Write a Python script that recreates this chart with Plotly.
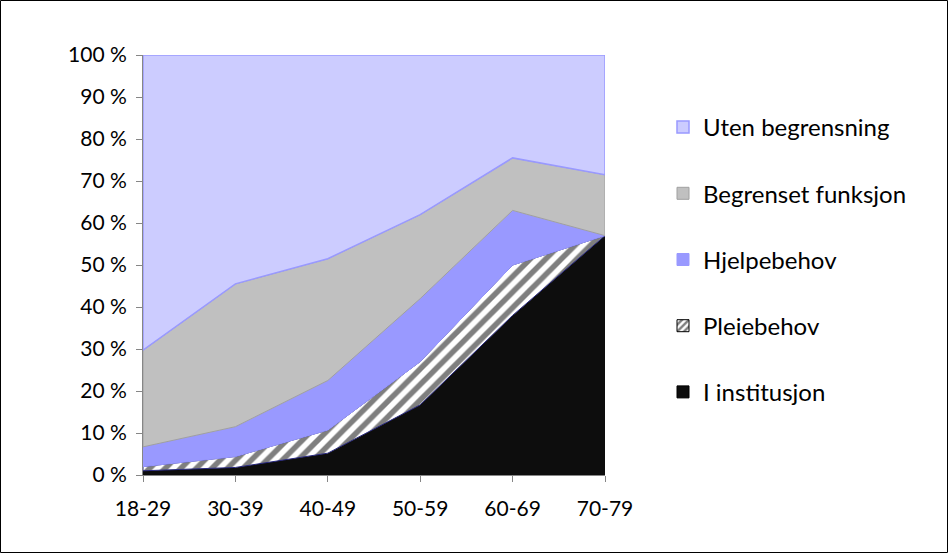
import plotly.graph_objects as go

categories = ["18-29", "30-39", "40-49", "50-59", "60-69", "70-79"]
i_institusjon = [1.0, 1.8, 5.2, 16.7, 38.0, 57.0]
pleiebehov = [1.0, 2.6, 5.5, 10.3, 12.0, 0.0]
hjelpebehov = [4.7, 7.1, 11.8, 15.0, 13.0, 0.0]
begrenset = [23.0, 34.0, 29.0, 20.0, 12.5, 14.5]
uten = [70.3, 54.5, 48.5, 38.0, 24.5, 28.5]
y_ticks = [0, 10, 20, 30, 40, 50, 60, 70, 80, 90, 100]
y_tick_labels = [f"{v} %" for v in y_ticks]

stripes = dict(shape="/", fgcolor="#000000", bgcolor="#ffffff", size=11, solidity=0.5)
series = [
    ("I institusjon", i_institusjon, "#0d0d0d", "#0d0d0d", None),
    ("Pleiebehov", pleiebehov, "white", "#2a2a80", stripes),
    ("Hjelpebehov", hjelpebehov, "#9999FF", "#9999FF", None),
    ("Begrenset funksjon", begrenset, "#C0C0C0", "#A0A0A0", None),
    ("Uten begrensning", uten, "#CCCCFF", "#9999FF", None),
]

xs = list(range(len(categories)))
fig = go.Figure()
lower = [0.0] * len(xs)
for i, (name, vals, fill, lc, pat) in enumerate(series):
    upper = [a + b for a, b in zip(lower, vals)]
    px = xs + xs[::-1] + [xs[0]]
    py = upper + lower[::-1] + [upper[0]]
    kw = dict(
        x=px, y=py, mode="lines", fill="toself", name=name, showlegend=False,
        fillcolor=fill, line=dict(color=lc, width=1.5 if name == "Uten begrensning" else 1),
        hoverinfo="skip",
    )
    if pat:
        kw["fillpattern"] = pat
    fig.add_trace(go.Scatter(**kw))
    lower = upper

# legend entries (square swatches)
for i, (name, vals, fill, lc, pat) in enumerate(series):
    mk = dict(color=fill if name != "Pleiebehov" else "white",
              line=dict(color="#000000" if name in ("Pleiebehov", "I institusjon") else lc, width=1))
    if name == "Uten begrensning":
        mk["line"] = dict(color="#9999FF", width=1.5)
    if name == "Begrenset funksjon":
        mk["line"] = dict(color="#A0A0A0", width=1)
    if pat:
        mk["pattern"] = dict(shape="/", fgcolor="#000000", bgcolor="#ffffff", size=6, solidity=0.5)
    fig.add_trace(go.Bar(x=[None], y=[None], name=name, marker=mk, legendgroup=name,
                         legendrank=100 - i, showlegend=True, hoverinfo="skip"))

W, H = 948, 553
ml, mr, mt, mb = 143, 343, 55, 78
pw = W - ml - mr
ph = H - mt - mb

fig.update_layout(
    width=W, height=H,
    margin=dict(l=ml, r=mr, t=mt, b=mb),
    paper_bgcolor="white", plot_bgcolor="white",
    font=dict(family="Lato", size=21, color="#000000"),
    showlegend=True,
    legend=dict(
        x=(663 - ml) / pw, y=(H - mb - 105) / ph, xanchor="left", yanchor="top",
        traceorder="grouped", tracegroupgap=32,
        font=dict(size=24), itemwidth=30, bgcolor="rgba(0,0,0,0)",
    ),
    xaxis=dict(
        range=[0, 5], tickvals=xs, ticktext=categories, tickfont=dict(size=21),
        showgrid=False, zeroline=False, showline=True, linecolor="#868686", linewidth=1,
        ticks="outside", ticklen=6, tickcolor="#868686", ticklabelstandoff=9,
    ),
    yaxis=dict(
        range=[0, 100], tickvals=y_ticks, ticktext=y_tick_labels, tickfont=dict(size=21),
        showgrid=False, zeroline=False, showline=True, linecolor="#868686", linewidth=1,
        ticks="outside", ticklen=6, tickcolor="#868686", ticklabelstandoff=5,
    ),
    shapes=[dict(
        type="rect", xref="paper", yref="paper",
        x0=(0.5 - ml) / pw, x1=(W - 0.5 - ml) / pw,
        y0=(-mb + 0.5) / ph, y1=(H - mb - 0.5) / ph,
        line=dict(color="#000000", width=1), layer="below",
    )],
)

fig.write_html("out.html")
